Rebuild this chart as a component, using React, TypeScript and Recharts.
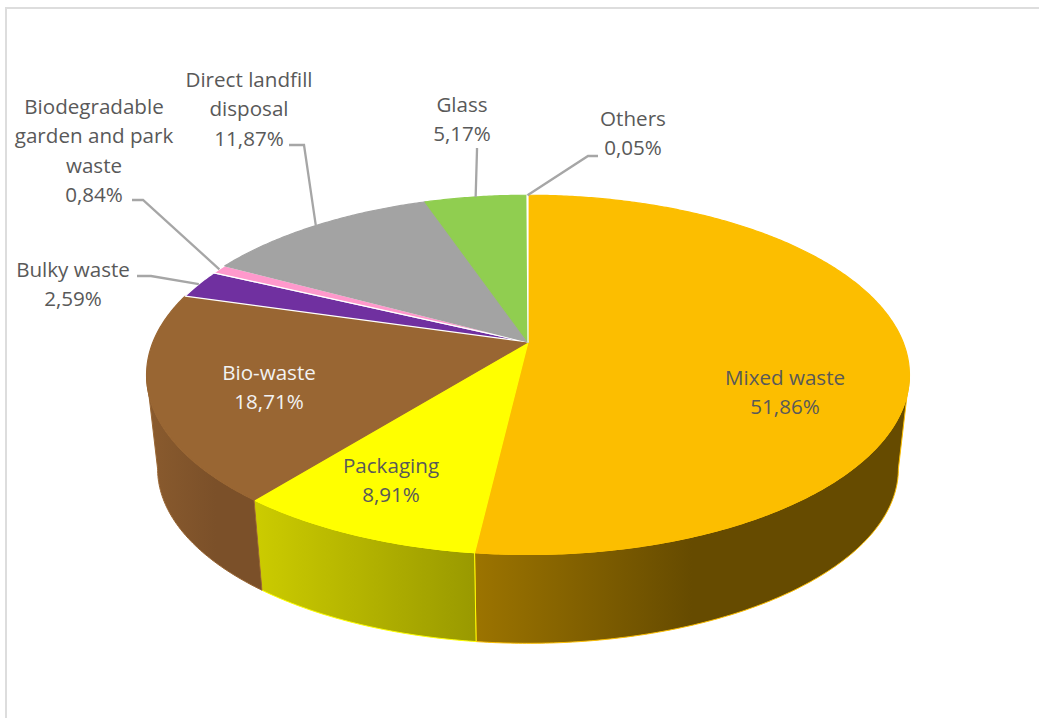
import React from "react";
import { PieChart, Pie } from "recharts";

const categories = [
  "Mixed waste",
  "Packaging",
  "Bio-waste",
  "Bulky waste",
  "Biodegradable garden and park waste",
  "Direct landfill disposal",
  "Glass",
  "Others",
];
const shares = [51.86, 8.91, 18.71, 2.59, 0.84, 11.87, 5.17, 0.05];

const fills = ["#FCBE00", "#FFFF00", "#996633", "#7030A0", "#FF99CC", "#A3A3A3", "#90CE50", "#FFFFFF"];
const edges = ["#FCBE00", "#FFFF00", "#996633", "#FFFFFF", "#FFFFFF", "#A3A3A3", "#90CE50", "#FFFFFF"];

// side wall shading, [stop offset, colour]
const wallShades: Record<string, [number, string][]> = {
  "Mixed waste": [[0, "#9C7400"], [0.5, "#664B00"], [1, "#664B00"]],
  Packaging: [[0, "#CCCC00"], [1, "#999900"]],
  "Bio-waste": [[0, "#8A5B2E"], [0.6, "#7B5029"], [1, "#7B5029"]],
};

// wrapped label lines, text centre, baseline of the first line, leader elbow
const labelLayout: Record<string, { lines: string[]; x: number; y: number; from?: [number, number]; elbow?: [number, number]; color?: string }> = {
  "Mixed waste": { lines: ["Mixed waste"], x: 785, y: 385 },
  Packaging: { lines: ["Packaging"], x: 391, y: 473 },
  "Bio-waste": { lines: ["Bio-waste"], x: 269, y: 380, color: "#F2F2F2" },
  "Bulky waste": { lines: ["Bulky waste"], x: 73, y: 277, from: [137, 276], elbow: [151, 276] },
  "Biodegradable garden and park waste": {
    lines: ["Biodegradable", "garden and park", "waste"],
    x: 94,
    y: 114,
    from: [132, 200],
    elbow: [143, 200],
  },
  "Direct landfill disposal": {
    lines: ["Direct landfill", "disposal"],
    x: 249,
    y: 87,
    from: [289, 145],
    elbow: [304, 145],
  },
  Glass: { lines: ["Glass"], x: 462, y: 112, from: [477, 148], elbow: [477, 150] },
  Others: { lines: ["Others"], x: 633, y: 126, from: [598, 156], elbow: [588, 156] },
};

const WIDTH = 1039;
const HEIGHT = 718;
const CX = 528;
const CY = 342;
const RADIUS = 375;
const TILT = 0.463; // flattening of the disc
const PERSPECTIVE = 0.183; // front edge sits closer to the viewer
const DEPTH = 94; // drop of the lower rim
const LOWER_SCALE = 0.971;

const pieData = categories.map((name, i) => ({ name, value: shares[i], fill: fills[i], stroke: edges[i] }));

const formatShare = (v: number) => v.toFixed(2).replace(".", ",") + "%";

// recharts angle (degrees, counter-clockwise from 3 o'clock) to a point on the tilted rim
function rimPoint(angle: number, cx: number, cy: number, r: number) {
  const rad = (angle * Math.PI) / 180;
  const X = Math.cos(rad);
  const Y = -Math.sin(rad);
  const w = 1 - PERSPECTIVE * Y;
  return { x: cx + (r * X) / w, y: cy + (TILT * r * Y) / w };
}

// same rim, on the underside of the disc
function lowerPoint(angle: number, cx: number, cy: number, r: number) {
  const p = rimPoint(angle, cx, cy, r);
  const midY = cy + (TILT * r * PERSPECTIVE) / (1 - PERSPECTIVE * PERSPECTIVE);
  return {
    x: cx + (p.x - cx) * LOWER_SCALE,
    y: midY + DEPTH + (p.y - midY) * LOWER_SCALE,
  };
}

function sampleAngles(from: number, to: number) {
  const steps = Math.max(2, Math.ceil(Math.abs(from - to) * 2));
  return Array.from({ length: steps + 1 }, (_, i) => from + ((to - from) * i) / steps);
}

const toPath = (pts: { x: number; y: number }[]) =>
  pts.map((p, i) => `${i === 0 ? "M" : "L"}${p.x.toFixed(2)},${p.y.toFixed(2)}`).join(" ") + " Z";

function DiscSlice(props: any) {
  const { cx, cy, outerRadius, startAngle, endAngle, fill, stroke, name } = props;
  const top = sampleAngles(startAngle, endAngle).map((a) => rimPoint(a, cx, cy, outerRadius));
  const face = toPath([{ x: cx, y: cy }, ...top]);

  // only the front of the disc shows a wall, between the two silhouette tangents
  const silhouette = (Math.asin(PERSPECTIVE) * 180) / Math.PI;
  const wallFrom = Math.min(startAngle, -silhouette);
  const wallTo = Math.max(endAngle, -180 + silhouette);
  let wall = null;
  if (wallFrom > wallTo) {
    const angles = sampleAngles(wallFrom, wallTo);
    const upper = angles.map((a) => rimPoint(a, cx, cy, outerRadius));
    const lower = angles.map((a) => lowerPoint(a, cx, cy, outerRadius)).reverse();
    const outline = [...upper, ...lower];
    const xs = outline.map((p) => p.x);
    const gradId = `wall-${props.index}`;
    wall = (
      <g>
        <defs>
          <linearGradient id={gradId} gradientUnits="userSpaceOnUse" x1={Math.min(...xs)} x2={Math.max(...xs)} y1={0} y2={0}>
            {(wallShades[name] || []).map(([offset, color]) => (
              <stop key={offset} offset={offset} stopColor={color} />
            ))}
          </linearGradient>
        </defs>
        <path d={toPath(outline)} fill={`url(#${gradId})`} stroke={fill} strokeWidth={1} strokeLinejoin="round" />
      </g>
    );
  }

  return (
    <g>
      {wall}
      <path d={face} fill={fill} stroke={stroke} strokeWidth={1.2} strokeLinejoin="round" />
    </g>
  );
}

function SliceLabel(props: any) {
  const { cx, cy, midAngle, name, value, outerRadius } = props;
  const layout = labelLayout[name];
  if (!layout) return null;
  const rows = [...layout.lines, formatShare(value)];
  const end = rimPoint(midAngle, cx, cy, outerRadius);
  return (
    <g>
      {layout.from && layout.elbow && (
        <polyline
          points={`${layout.from[0]},${layout.from[1]} ${layout.elbow[0]},${layout.elbow[1]} ${end.x},${end.y}`}
          fill="none"
          stroke="#A6A6A6"
          strokeWidth={2.3}
        />
      )}
      <text
        textAnchor="middle"
        fontFamily="'Open Sans', sans-serif"
        fontSize={20.6}
        fill={layout.color || "#595959"}
      >
        {rows.map((row, i) => (
          <tspan key={i} x={layout.x} y={layout.y + i * 29.3}>
            {row}
          </tspan>
        ))}
      </text>
    </g>
  );
}

export default function App() {
  return (
    <div style={{ position: "absolute", left: 0, top: 0, width: WIDTH, height: HEIGHT, background: "#fff", overflow: "hidden" }}>
      <div
        style={{
          position: "absolute",
          left: 5,
          top: 7,
          width: WIDTH,
          height: HEIGHT,
          borderLeft: "2.5px solid #dddddd",
          borderTop: "2.5px solid #dddddd",
        }}
      />
      <div style={{ position: "absolute", left: 0, top: 0 }}>
        <PieChart width={WIDTH} height={HEIGHT} margin={{ top: 0, right: 0, bottom: 0, left: 0 }}>
          <Pie
            data={pieData}
            dataKey="value"
            nameKey="name"
            cx={CX}
            cy={CY}
            innerRadius={0}
            outerRadius={RADIUS}
            startAngle={90}
            endAngle={-270}
            shape={DiscSlice}
            label={SliceLabel}
            labelLine={false}
            isAnimationActive={false}
          />
        </PieChart>
      </div>
    </div>
  );
}
